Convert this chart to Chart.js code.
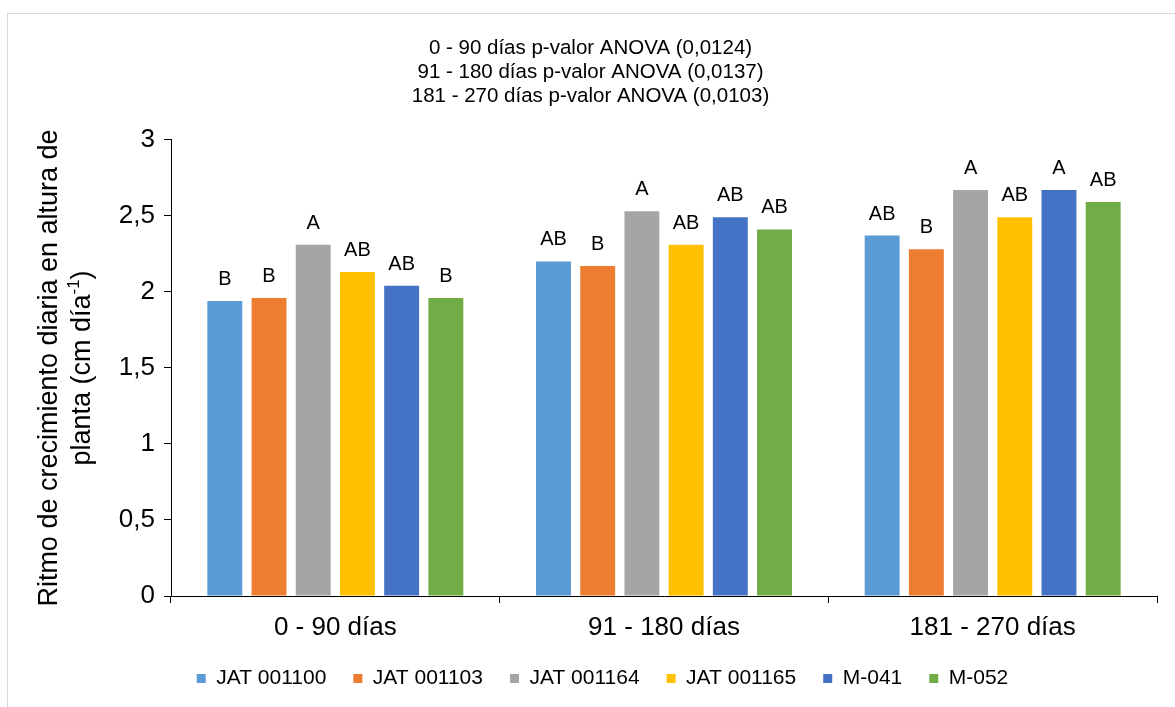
<!DOCTYPE html>
<html>
<head>
<meta charset="utf-8">
<script src="https://cdn.jsdelivr.net/npm/chart.js@4.4.1/dist/chart.umd.min.js"></script>
<style>
  html, body { margin: 0; padding: 0; background: #fff; }
  #wrap { position: relative; width: 1175px; height: 707px; }
  #frame { position: absolute; left: 7px; top: 13px; right: -2px; bottom: -2px; border-top: 1px solid #d9d9d9; border-left: 1px solid #d9d9d9; }
  canvas { position: absolute; left: 0; top: 0; }
</style>
</head>
<body>
<div id="wrap">
  <div id="frame"></div>
  <canvas id="chart" width="1175" height="707"></canvas>
</div>
<script>
// ---- data ----
const periods = ['0 - 90 días', '91 - 180 días', '181 - 270 días'];
const varieties = ['JAT 001100', 'JAT 001103', 'JAT 001164', 'JAT 001165', 'M-041', 'M-052'];
const colors = ['#5B9BD5', '#ED7D31', '#A5A5A5', '#FFC000', '#4472C4', '#70AD47'];

const jat001100 = [1.94, 2.20, 2.37];
const jat001103 = [1.96, 2.17, 2.28];
const jat001164 = [2.31, 2.53, 2.67];
const jat001165 = [2.13, 2.31, 2.49];
const m041      = [2.04, 2.49, 2.67];
const m052      = [1.96, 2.41, 2.59];

const letters100 = ['B', 'AB', 'AB'];
const letters103 = ['B', 'B', 'B'];
const letters164 = ['A', 'A', 'A'];
const letters165 = ['AB', 'AB', 'AB'];
const letters041 = ['AB', 'AB', 'A'];
const letters052 = ['B', 'AB', 'AB'];

const titleLines = [
  '0 - 90 días p-valor ANOVA (0,0124)',
  '91 - 180 días p-valor ANOVA (0,0137)',
  '181 - 270 días p-valor ANOVA (0,0103)'
];

const seriesValues = [jat001100, jat001103, jat001164, jat001165, m041, m052];
const seriesLetters = [letters100, letters103, letters164, letters165, letters041, letters052];

const FONT = "'Liberation Sans', Arial, sans-serif";

// letters above bars
const letterPlugin = {
  id: 'letters',
  afterDatasetsDraw(chart) {
    const ctx = chart.ctx;
    ctx.save();
    ctx.font = '20px ' + FONT;
    ctx.fillStyle = '#000';
    ctx.textAlign = 'center';
    ctx.textBaseline = 'alphabetic';
    chart.data.datasets.forEach((ds, i) => {
      chart.getDatasetMeta(i).data.forEach((bar, j) => {
        ctx.fillText(seriesLetters[i][j], bar.x, bar.y - 16);
      });
    });
    ctx.restore();
  }
};

// nudge legend like the original
const legendShift = {
  id: 'legendShift',
  afterLayout(chart) {
    const lg = chart.legend;
    lg.left += 12; lg.right += 12;
    lg.top -= 7; lg.bottom -= 7;
  }
};

// y axis title with superscript
const yTitlePlugin = {
  id: 'yTitle',
  afterDraw(chart) {
    const ctx = chart.ctx;
    const cy = 368;
    ctx.save();
    ctx.fillStyle = '#000';
    ctx.textBaseline = 'middle';
    ctx.translate(50, cy);
    ctx.rotate(-Math.PI / 2);
    ctx.font = '27px ' + FONT;
    ctx.textAlign = 'center';
    ctx.fillText('Ritmo de crecimiento diaria en altura de', 0, 0);
    // second line
    const a = 'planta (cm día', sup = '-1', b = ')';
    ctx.font = '27px ' + FONT;
    const wa = ctx.measureText(a).width, wb = ctx.measureText(b).width;
    ctx.font = '17px ' + FONT;
    const ws = ctx.measureText(sup).width;
    let x = -(wa + ws + wb) / 2;
    ctx.textAlign = 'left';
    ctx.font = '27px ' + FONT;
    ctx.fillText(a, x, 33);
    ctx.font = '17px ' + FONT;
    ctx.fillText(sup, x + wa, 33 - 9);
    ctx.font = '27px ' + FONT;
    ctx.fillText(b, x + wa + ws, 33);
    ctx.restore();
  }
};

new Chart(document.getElementById('chart'), {
  type: 'bar',
  data: {
    labels: periods,
    datasets: varieties.map((v, i) => ({
      label: v,
      data: seriesValues[i],
      backgroundColor: colors[i],
      borderWidth: 0,
      categoryPercentage: 0.807,
      barPercentage: 0.79
    }))
  },
  options: {
    responsive: false,
    animation: false,
    devicePixelRatio: 1,
    layout: { padding: { left: 24, right: 18, top: 0, bottom: 1 } },
    plugins: {
      title: {
        display: true,
        text: titleLines,
        color: '#000',
        font: { family: FONT, size: 20.5, weight: 'normal', lineHeight: 1.15 },
        padding: { top: 37, bottom: 32 }
      },
      legend: {
        position: 'bottom',
        labels: {
          color: '#000',
          font: { family: FONT, size: 21 },
          boxWidth: 9,
          boxHeight: 9,
          padding: 27
        }
      },
      tooltip: { enabled: false }
    },
    scales: {
      x: {
        grid: { display: true, drawOnChartArea: false, color: '#000', tickLength: 7, offset: true },
        border: { color: '#000', width: 1 },
        ticks: { color: '#000', font: { family: FONT, size: 26 }, padding: 9 },
        afterFit(scale) { scale.height = 52; }
      },
      y: {
        min: 0,
        max: 3,
        grid: { display: true, drawOnChartArea: false, color: '#000', tickLength: 7 },
        border: { color: '#000', width: 1 },
        ticks: {
          stepSize: 0.5,
          color: '#000',
          font: { family: FONT, size: 26 },
          padding: 9,
          callback: v => String(v).replace('.', ',')
        },
        afterFit(scale) { scale.width = 147; }
      }
    }
  },
  plugins: [letterPlugin, yTitlePlugin, legendShift]
});
</script>
</body>
</html>
